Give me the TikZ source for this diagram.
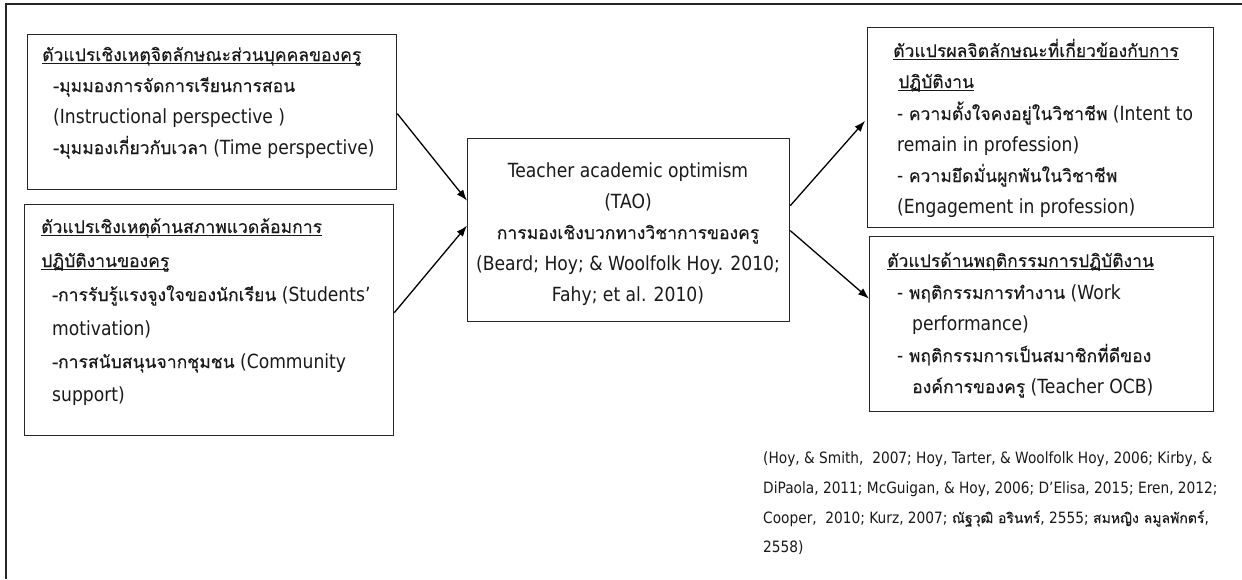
\documentclass[tikz,border=0pt]{standalone}
\usepackage{fontspec}
\setmainfont{DejaVu Sans}[FakeStretch=0.88]
\newfontfamily\thaifont[Script=Thai,Scale=0.9,FakeBold=0.25]{Loma}
\usetikzlibrary{arrows.meta}
\newcommand\T[1]{{\thaifont #1}}
\newcommand\ulin[1]{\setbox0=\hbox{#1}\rlap{\rule[-2.5pt]{\wd0}{0.9pt}}\box0}
\tikzset{
  boxx/.style={draw=black!85, line width=1.3pt, anchor=north west, inner sep=0pt},
  txt/.style={anchor=base west, inner sep=0pt, font=\fontsize{19.5}{31}\selectfont, text=black!90},
  ctxt/.style={txt, anchor=base},
  cite/.style={anchor=base west, inner sep=0pt, font=\fontsize{15.6}{30}\selectfont, text=black!90},
  arr/.style={line width=1.3pt, -{Latex[length=11pt,width=8pt]}},
}
\begin{document}
\begin{tikzpicture}[x=1pt,y=-1pt]
\useasboundingbox (0,0) rectangle (1242,579);
\draw[line width=1.6pt, black!85] (1242,4) -- (6,4) -- (6,579);
% boxes
\node[boxx, minimum width=369pt, minimum height=155pt] (b1) at (27,34) {};
\node[boxx, minimum width=369pt, minimum height=231pt] (b2) at (24,204) {};
\node[boxx, minimum width=322pt, minimum height=183pt] (c) at (467,138) {};
\node[boxx, minimum width=346pt, minimum height=200pt] (b3) at (867,27) {};
\node[boxx, minimum width=344pt, minimum height=175pt] (b4) at (869,236) {};
% box 1 text
\node[txt] (b1h) at (42,61) {\ulin{\T{ตัวแปรเชิงเหตุจิตลักษณะส่วนบุคคลของครู}}};
\node[txt] (b1a) at (53,92) {\T{-มุมมองการจัดการเรียนการสอน}};
\node[txt] (b1b) at (53,123) {(Instructional perspective )};
\node[txt] (b1c) at (53,154) {\T{-มุมมองเกี่ยวกับเวลา} (Time perspective)};
% box 2 text
\node[txt] (b2h) at (41,233) {\ulin{\T{ตัวแปรเชิงเหตุด้านสภาพแวดล้อมการ}}};
\node[txt] (b2i) at (41,267) {\ulin{\T{ปฏิบัติงานของครู}}};
\node[txt] (b2a) at (52,301) {\T{-การรับรู้แรงจูงใจของนักเรียน} (Students’};
\node[txt] (b2b) at (52,335) {motivation)};
\node[txt] (b2c) at (52,368) {\T{-การสนับสนุนจากชุมชน} (Community};
\node[txt] (b2d) at (52,401) {support)};
% centre text
\node[ctxt] (c1) at (628,177) {Teacher academic optimism};
\node[ctxt] (c2) at (628,208) {(TAO)};
\node[ctxt] (c3) at (628,239) {\T{การมองเชิงบวกทางวิชาการของครู}};
\node[ctxt] (c4) at (628,270) {(Beard; Hoy; \& Woolfolk Hoy. 2010;};
\node[ctxt] (c5) at (628,301) {Fahy; et al. 2010)};
% box 3 text
\node[txt] (b3h) at (893,57) {\ulin{\T{ตัวแปรผลจิตลักษณะที่เกี่ยวข้องกับการ}}};
\node[txt] (b3i) at (898,88) {\ulin{\T{ปฏิบัติงาน}}};
\node[txt] (b3a) at (897,120) {- \T{ความตั้งใจคงอยู่ในวิชาชีพ} (Intent to};
\node[txt] (b3b) at (897,151) {remain in profession)};
\node[txt] (b3c) at (897,182) {- \T{ความยึดมั่นผูกพันในวิชาชีพ}};
\node[txt] (b3d) at (897,213) {(Engagement in profession)};
% box 4 text
\node[txt] (b4h) at (887,267) {\ulin{\T{ตัวแปรด้านพฤติกรรมการปฏิบัติงาน}}};
\node[txt] (b4a) at (897,299) {- \T{พฤติกรรมการทำงาน} (Work};
\node[txt] (b4b) at (912,330) {performance)};
\node[txt] (b4c) at (897,362) {- \T{พฤติกรรมการเป็นสมาชิกที่ดีของ}};
\node[txt] (b4d) at (912,393) {\T{องค์การของครู} (Teacher OCB)};
% citations
\node[cite] (r1) at (763,463) {(Hoy, \& Smith,~ 2007; Hoy, Tarter, \& Woolfolk Hoy, 2006; Kirby, \&};
\node[cite] (r2) at (763,493) {DiPaola, 2011; McGuigan, \& Hoy, 2006; D’Elisa, 2015; Eren, 2012;};
\node[cite] (r3) at (763,523) {Cooper,~ 2010; Kurz, 2007; \T{ณัฐวุฒิ อรินทร์}, 2555; \T{สมหญิง ลมูลพักตร์},};
\node[cite] (r4) at (763,552) {2558)};
% arrows
\draw[arr] ([yshift=-1.5pt]b1.east) -- ([yshift=29.5pt]c.west);
\draw[arr] ([yshift=7.5pt]b2.east) -- ([yshift=4.5pt]c.west);
\draw[arr, shorten >=3pt] ([yshift=24.5pt]c.east) -- ([yshift=9pt]b3.west);
\draw[arr] ([yshift=-0.5pt]c.east) -- ([yshift=25.5pt]b4.west);
\end{tikzpicture}
\end{document}
